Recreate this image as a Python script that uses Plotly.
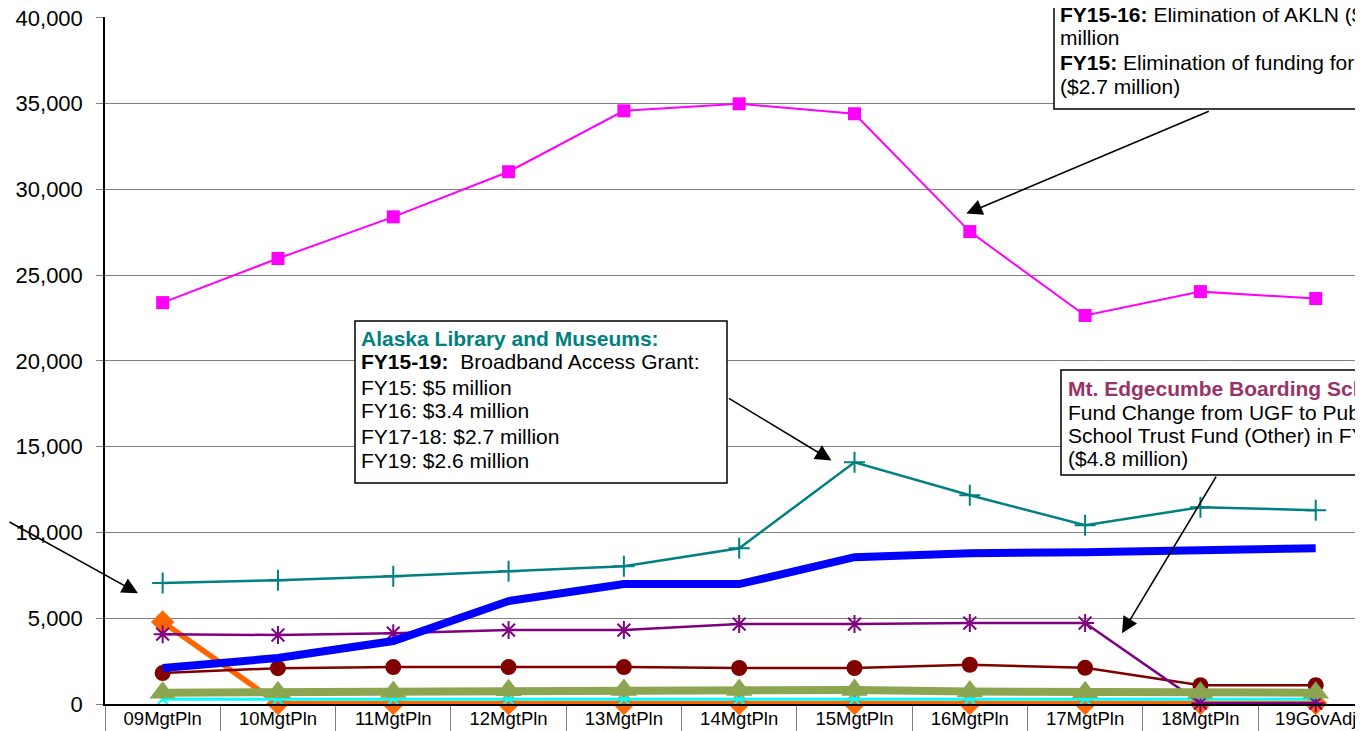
import plotly.graph_objects as go

categories = ["09MgtPln", "10MgtPln", "11MgtPln", "12MgtPln", "13MgtPln", "14MgtPln",
              "15MgtPln", "16MgtPln", "17MgtPln", "18MgtPln", "19GovAdj"]

magenta_vals = [23400, 25970, 28400, 31030, 34580, 34990, 34410, 27540, 22650, 24040, 23640]
teal_vals = [7050, 7220, 7450, 7740, 8030, 9080, 14090, 12170, 10420, 11470, 11300]
blue_vals = [2100, 2680, 3670, 6000, 6990, 6990, 8560, 8790, 8850, 9020, 9080]
purple_vals = [4070, 4020, 4130, 4310, 4310, 4660, 4660, 4720, 4720, 50, 50]
red_vals = [1800, 2090, 2150, 2150, 2150, 2100, 2100, 2290, 2110, 1100, 1100]
green_vals = [660, 690, 700, 800, 820, 820, 820, 730, 680, 660, 660]
cyan_vals = [280, 280, 280, 280, 280, 280, 280, 280, 280, 280, 280]
orange_vals = [4780, 30, 30, 30, 30, 30, 30, 30, 30, 30, 30]

y_ticks = [0, 5000, 10000, 15000, 20000, 25000, 30000, 35000, 40000]

FONT = "Liberation Sans, Arial, sans-serif"

fig = go.Figure()

def add(vals, color, width, symbol, size, mline=None, mcolor=None):
    marker = dict(symbol=symbol, size=size, color=mcolor or color)
    if mline:
        marker["line"] = dict(color=color, width=mline)
    fig.add_trace(go.Scatter(x=categories, y=vals, mode="lines+markers" if symbol else "lines",
                             line=dict(color=color, width=width), marker=marker,
                             showlegend=False, cliponaxis=False))

add(orange_vals, "#FF6600", 5.5, "diamond", 18)
add(cyan_vals, "#00FFFF", 3, "x-thin-open", 10, mline=2)
add(red_vals, "#800000", 2.5, "circle", 16)
add(purple_vals, "#800080", 2.5, "asterisk-open", 15, mline=2)
add(green_vals, "#8CA550", 8, "triangle-up", 23)
add(teal_vals, "#008080", 2.5, "cross-thin-open", 15, mline=2)
add(blue_vals, "#0000FF", 8, None, 0)
add(magenta_vals, "#FF00FF", 2, "square", 13)

OFF = 8  # page body offset
W, H = 1363 - OFF, 731 - OFF
ML, MT, MB = 105 - OFF, 17 - OFF, 27
PW = W - ML
PH = H - MT - MB

def px(xp):
    return (xp - OFF - ML) / PW

def py(yp):
    return (H - MB - (yp - OFF)) / PH

shapes = []
annotations = []

def box(x0, y0, x1, y1):
    shapes.append(dict(type="rect", xref="paper", yref="paper",
                       x0=px(x0), x1=px(x1), y0=py(y1), y1=py(y0),
                       line=dict(color="black", width=1.5), fillcolor="white", layer="above"))

def text(xp, yp, t, color="black"):
    annotations.append(dict(xref="paper", yref="paper", x=px(xp), y=py(yp), text=t,
                            xanchor="left", yanchor="middle", showarrow=False,
                            font=dict(family=FONT, size=21, color=color),
                            borderpad=0, borderwidth=0, align="left"))

def arrow(hx, hy, ax, ay):
    annotations.append(dict(xref="x", yref="y", x=hx, y=hy, ax=ax, ay=ay, text="",
                            showarrow=True, arrowhead=2, arrowsize=2.0, arrowwidth=1.6,
                            arrowcolor="black", standoff=0))

# Top-right box
box(1054, -30, 1420, 109)
text(1060, 14, "<b>FY15-16:</b> Elimination of AKLN ($1.0")
text(1060, 37, "million")
text(1060, 62, "<b>FY15:</b> Elimination of funding for SLED")
text(1060, 86, "($2.7 million)")

# Alaska Library box
box(355, 321, 727, 483)
text(361, 338, "<b>Alaska Library and Museums:</b>", color="#008080")
text(361, 362, "<b>FY15-19:</b>  Broadband Access Grant:")
text(361, 387, "FY15: $5 million")
text(361, 411, "FY16: $3.4 million")
text(361, 436, "FY17-18: $2.7 million")
text(361, 460, "FY19: $2.6 million")

# Mt. Edgecumbe box
box(1061, 370, 1420, 475)
text(1068, 388, "<b>Mt. Edgecumbe Boarding School:</b>", color="#993366")
text(1068, 412, "Fund Change from UGF to Public")
text(1068, 435, "School Trust Fund (Other) in FY18")
text(1068, 458, "($4.8 million)")

# Arrows (head in data coords, tail offset in px)
arrow(6.97, 28590, 244, -103)
arrow(5.80, 14200, -104, -63)
arrow(8.32, 4130, 95, -158)
arrow(-0.214, 6460, -160, -72)

fig.update_layout(
    width=W, height=H,
    margin=dict(l=ML, r=0, t=MT, b=MB, pad=0, autoexpand=False),
    plot_bgcolor="white", paper_bgcolor="white",
    font=dict(family=FONT, color="black"),
    showlegend=False,
    shapes=shapes,
    annotations=annotations,
    xaxis=dict(type="category", categoryorder="array", categoryarray=categories,
               range=[-0.5, 10.41], showgrid=False, zeroline=False, automargin=False,
               showline=True, linecolor="black", linewidth=1.5,
               ticks="outside", tickson="boundaries", ticklen=27, tickcolor="#808080",
               tickwidth=1, ticklabelstandoff=-3,
               tickfont=dict(family=FONT, size=18.5, color="black")),
    yaxis=dict(range=[0, 40050], tickvals=y_ticks, tickformat=",d", automargin=False,
               showgrid=True, gridcolor="#808080", gridwidth=1, zeroline=False,
               showline=True, linecolor="black", linewidth=1.5,
               ticks="outside", ticklen=7, tickcolor="#808080", tickwidth=1,
               ticklabelstandoff=9, ticklabeloverflow="allow",
               tickfont=dict(family=FONT, size=22, color="black")),
)

fig.write_html("out.html")
